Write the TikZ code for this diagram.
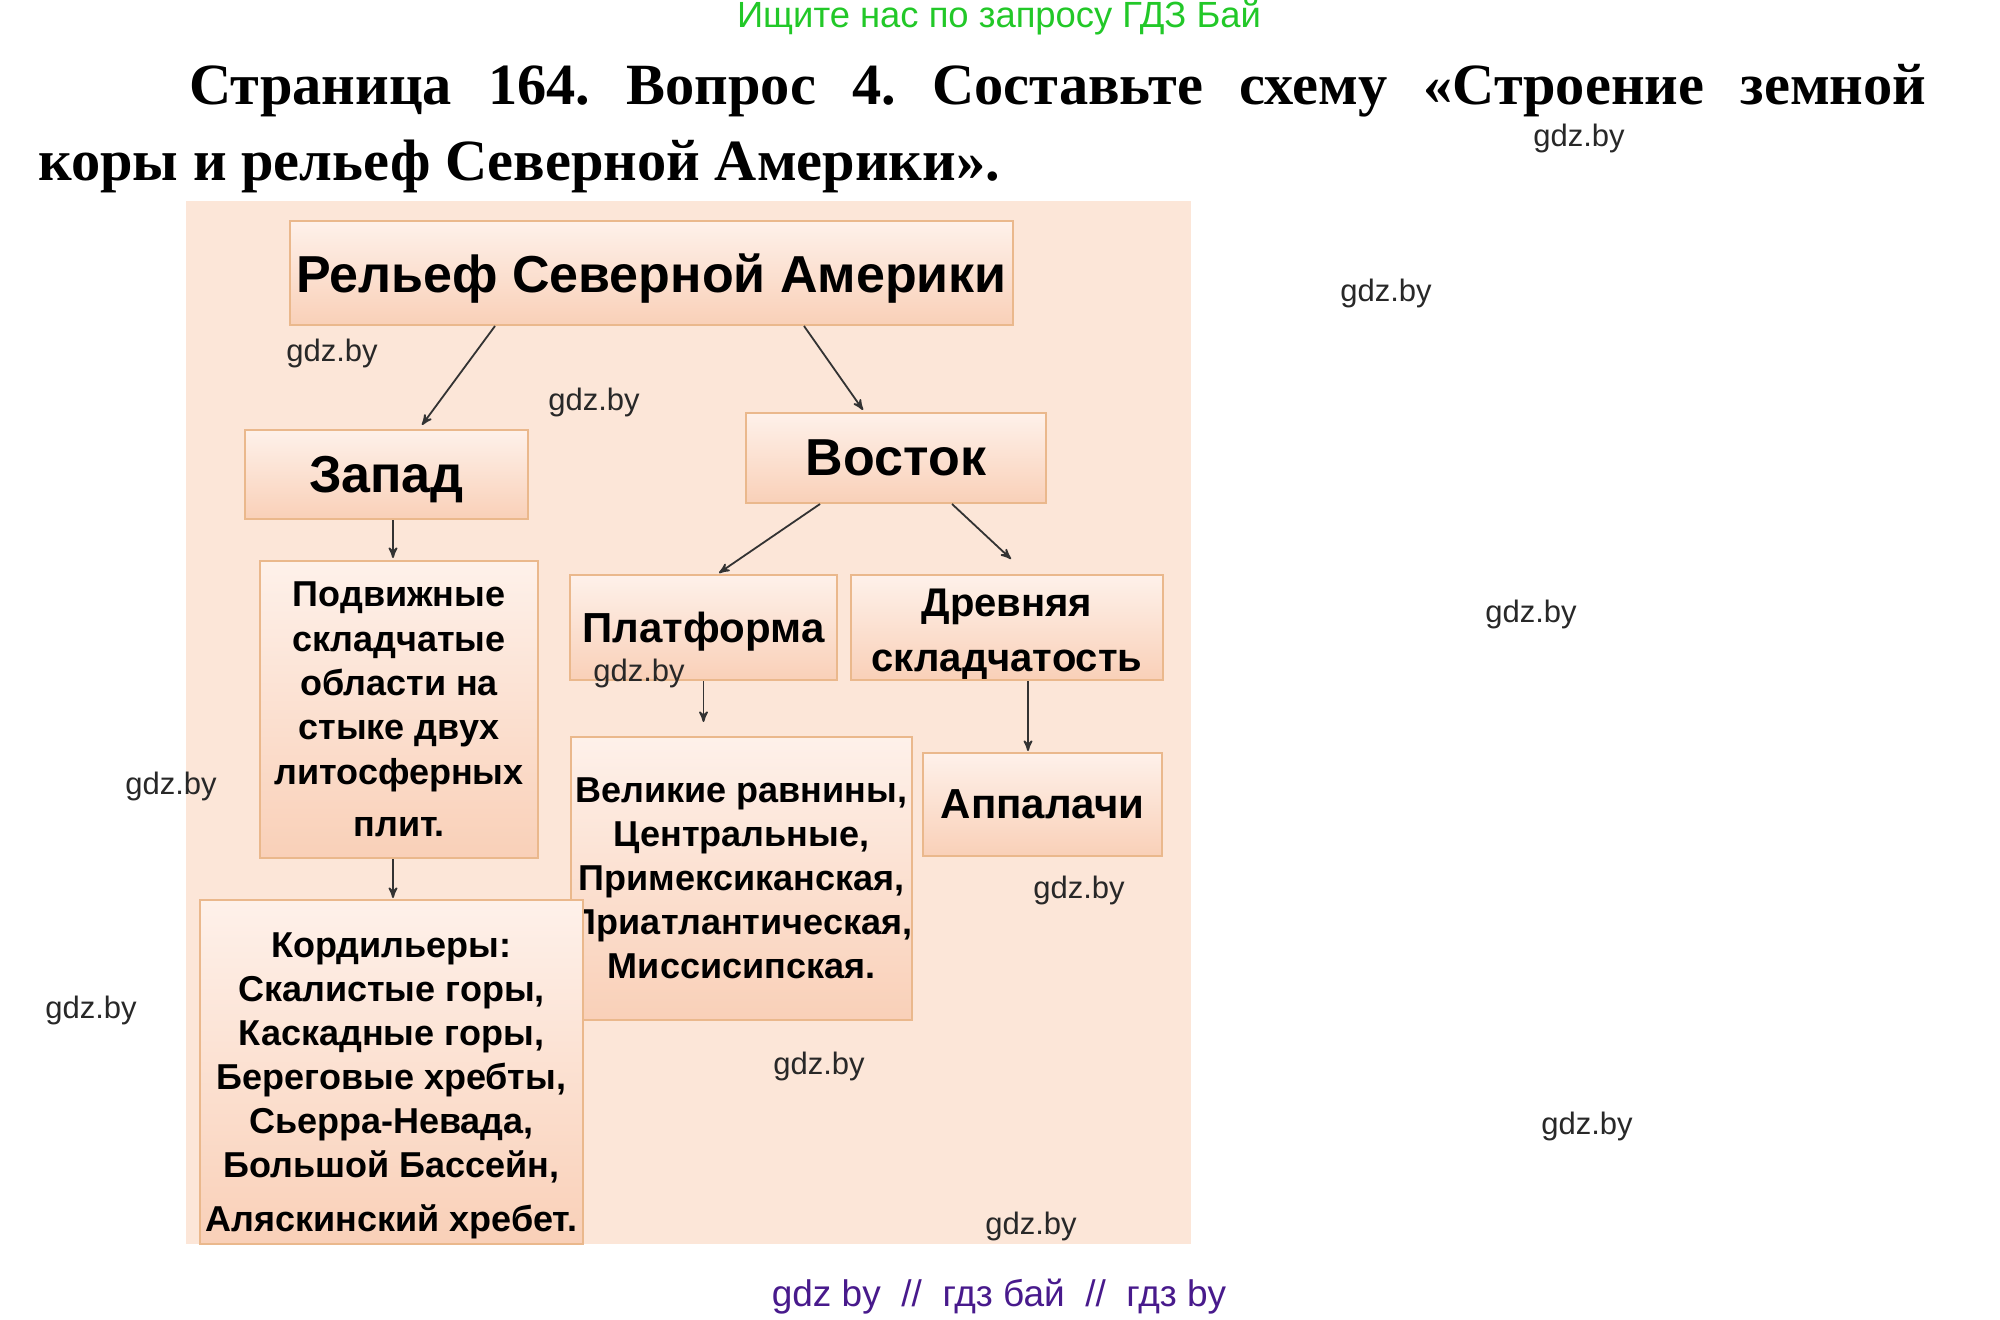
\documentclass[tikz,border=0pt]{standalone}
\usepackage{fontspec}
\setmainfont{Liberation Serif}
\setsansfont{Liberation Sans}
\usepackage{tikz}
\usetikzlibrary{arrows}
\frenchspacing
\definecolor{bgpeach}{RGB}{252,230,216}
\definecolor{boxtop}{RGB}{254,241,234}
\definecolor{boxbottom}{RGB}{249,208,184}
\definecolor{boxedge}{RGB}{234,184,140}
\definecolor{gdzgreen}{RGB}{34,200,40}
\definecolor{gdzpurple}{RGB}{72,26,140}
\definecolor{markgray}{RGB}{40,40,40}

\begin{document}
\begin{tikzpicture}[x=0.5pt,y=-0.5pt,>=stealth',
                    box node/.style={rectangle,draw=boxedge,line width=1pt,top color=boxtop,bottom color=boxbottom,
                                     align=center,inner sep=0pt,text=black,font=\sffamily\bfseries},
                    mark node/.style={text=markgray,font=\sffamily\fontsize{15.5}{18}\selectfont},
                    arrow line/.style={->,draw=black!80,line width=0.9pt}]

  \fill[white] (0,0) rectangle (2000,1320);
  \useasboundingbox (0,0) rectangle (2000,1320);
  \fill[bgpeach] (186,201) rectangle (1191,1244);

  % heading
  \node[text=gdzgreen,font=\sffamily\fontsize{18.2}{20}\selectfont] (search) at (999,18) {Ищите нас по запросу ГДЗ Бай};
  \node[anchor=base west,inner sep=0pt,font=\rmfamily\bfseries\fontsize{29.2}{36}\selectfont] (head1) at (189,105)
    {\makebox[868.5pt][s]{Страница 164. Вопрос 4. Составьте схему «Строение земной}};
  \node[anchor=base west,inner sep=0pt,font=\rmfamily\bfseries\fontsize{29.2}{36}\selectfont] (head2) at (38,181)
    {коры и рельеф Северной Америки».};

  % boxes
  \node[box node,minimum width=361.5pt,minimum height=52pt,text depth=0pt,font=\sffamily\bfseries\fontsize{26}{30}\selectfont] (top) at (651.5,273) {Рельеф Северной Америки};
  \node[box node,minimum width=141.5pt,minimum height=44.5pt,text depth=0pt,font=\sffamily\bfseries\fontsize{26}{30}\selectfont] (zap) at (386.5,474.5) {Запад};
  \node[box node,minimum width=150pt,minimum height=45pt,text depth=-1.5pt,font=\sffamily\bfseries\fontsize{26}{30}\selectfont] (vost) at (896,458) {Восток};
  \node[box node,minimum width=139pt,minimum height=148.5pt,font=\sffamily\bfseries\fontsize{18}{22.2}\selectfont] (pod) at (399,709.5)
    {Подвижные\\складчатые\\области на\\стыке двух\\литосферных\\[4pt]плит.};
  \node[box node,minimum width=133.5pt,minimum height=52.5pt,text depth=-1.5pt,font=\sffamily\bfseries\fontsize{21}{25}\selectfont] (plat) at (703.5,627.5) {Платформа};
  \node[box node,minimum width=156pt,minimum height=52.5pt,font=\sffamily\bfseries\fontsize{20}{27.5}\selectfont] (drev) at (1007,627.5) {\rule{0pt}{20pt}Древняя\\складчатость};
  \node[box node,minimum width=170.5pt,minimum height=141.5pt,font=\sffamily\bfseries\fontsize{18}{22}\selectfont] (vel) at (741.5,878.5)
    {Великие равнины,\\Центральные,\\Примексиканская,\\Приатлантическая,\\Миссисипская.};
  \node[box node,minimum width=119.5pt,minimum height=51.5pt,font=\sffamily\bfseries\fontsize{21}{25}\selectfont] (app) at (1042.5,804.5) {Аппалачи};
  \node[box node,minimum width=191.5pt,minimum height=172pt,font=\sffamily\bfseries\fontsize{18}{22}\selectfont] (kord) at (391.5,1072)
    {\rule{0pt}{26pt}Кордильеры:\\Скалистые горы,\\Каскадные горы,\\Береговые хребты,\\Сьерра-Невада,\\Большой Бассейн,\\[5pt]Аляскинский хребет.};

  % arrows
  \draw[arrow line] ([xshift=103pt]top.south west) -- ([xshift=89pt,yshift=2pt]zap.north west);
  \draw[arrow line] ([xshift=257.5pt]top.south west) -- ([xshift=59pt,yshift=1pt]vost.north west);
  \draw[arrow line] ([xshift=3.25pt]zap.south) -- ([xshift=-3pt,yshift=1pt]pod.north);
  \draw[arrow line] ([xshift=-3pt]pod.south) -- ([xshift=0.75pt,yshift=0.5pt]kord.north);
  \draw[arrow line] ([xshift=37.5pt]vost.south west) -- ([xshift=7.75pt,yshift=0.5pt]plat.north);
  \draw[arrow line] ([xshift=103.5pt]vost.south west) -- ([xshift=2pt,yshift=7.5pt]drev.north);
  \draw[arrow line] (plat.south) -- ([xshift=-19pt,yshift=7pt]vel.north);
  \draw[arrow line] ([xshift=10.5pt]drev.south) -- ([xshift=-7.25pt,yshift=0.5pt]app.north);

  % watermarks
  \node[mark node] (m1) at (1579,138) {gdz.by};
  \node[mark node] (m2) at (1386,293) {gdz.by};
  \node[mark node] (m3) at (332,353) {gdz.by};
  \node[mark node] (m4) at (594,402) {gdz.by};
  \node[mark node] (m5) at (1531,614) {gdz.by};
  \node[mark node] (m6) at (639,673) {gdz.by};
  \node[mark node] (m7) at (171,786) {gdz.by};
  \node[mark node] (m8) at (1079,890) {gdz.by};
  \node[mark node] (m9) at (91,1010) {gdz.by};
  \node[mark node] (m10) at (819,1066) {gdz.by};
  \node[mark node] (m11) at (1587,1126) {gdz.by};
  \node[mark node] (m12) at (1031,1226) {gdz.by};

  \node[text=gdzpurple,font=\sffamily\fontsize{18.5}{20}\selectfont] (foot) at (999,1297) {gdz by \ // \ гдз бай \ // \ гдз by};
\end{tikzpicture}
\end{document}
